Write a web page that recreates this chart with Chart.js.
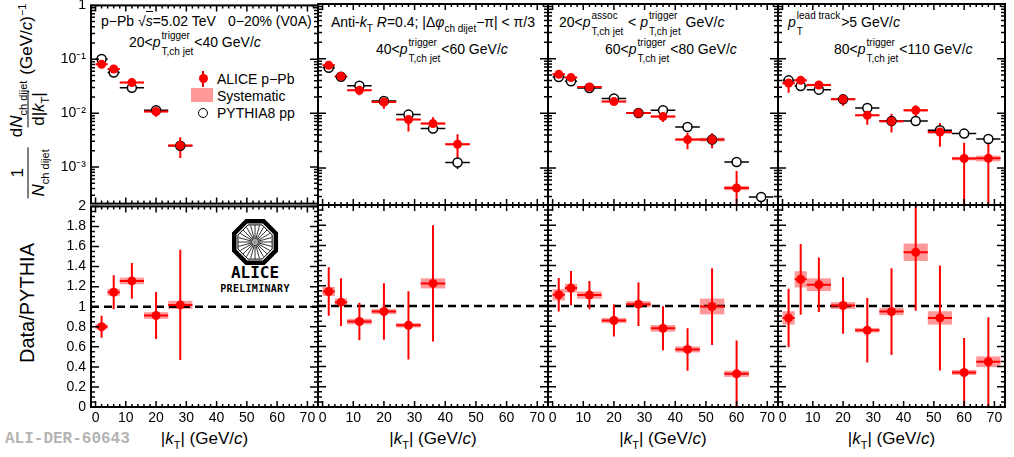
<!DOCTYPE html>
<html>
<head>
<meta charset="utf-8">
<script src="https://cdn.jsdelivr.net/npm/chart.js@4.4.1/dist/chart.umd.min.js"></script>
<style>
body { margin: 0; background: #fff; }
#page { position: relative; width: 1014px; height: 457px; overflow: hidden; font-family: "Liberation Sans", Arial, sans-serif; color: #000; }
canvas { position: absolute; }
.t { position: absolute; white-space: nowrap; font-size: 14px; line-height: 16px; }
.ss { display: inline-flex; flex-direction: column; vertical-align: middle; font-size: 10px; line-height: 11px; row-gap: 5px; margin: -6px 1px; }
.sb { font-size: 10px; position: relative; top: 5px; }
.ov { border-top: 1px solid #000; padding-top: 1px; }
.xt { position: absolute; top: 430px; text-align: center; font-size: 17px; line-height: 18px; white-space: nowrap; }
.xt .sb { font-size: 11px; top: 5px; }
.rot { position: absolute; white-space: nowrap; transform: translate(-50%, -50%) rotate(-90deg); }
.frac { display: inline-flex; flex-direction: column; align-items: center; vertical-align: middle; margin: 0 4px; }
.frac > span { line-height: 20px; padding: 0 2px; }
.den { border-top: 1.5px solid #000; }
.s2 { font-size: 11px; position: relative; top: 5px; }
</style>
</head>
<body>
<div id="page">
  <div class="t" style="left:101px;top:13px">p−Pb √<span class="ov"><i>s</i></span>=5.02 TeV</div>
  <div class="t" style="left:228px;top:13px">0−20% (V0A)</div>
  <div class="t" style="left:129px;top:34px">20&lt;<i>p</i><span class="ss"><span>trigger</span><span>T,ch jet</span></span>&lt;40 GeV/<i>c</i></div>

  <div class="t" style="left:331px;top:14px">Anti-<i>k</i><span class="sb">T</span> <i>R</i>=0.4; |Δ<i>φ</i><span class="sb">ch dijet</span>−π| &lt; π/3</div>
  <div class="t" style="left:376px;top:41px">40&lt;<i>p</i><span class="ss"><span>trigger</span><span>T,ch jet</span></span>&lt;60 GeV/<i>c</i></div>

  <div class="t" style="left:559px;top:14px">20&lt;<i>p</i><span class="ss"><span>assoc</span><span>T,ch jet</span></span> &lt; <i>p</i><span class="ss"><span>trigger</span><span>T,ch jet</span></span> GeV/<i>c</i></div>
  <div class="t" style="left:605px;top:41px">60&lt;<i>p</i><span class="ss"><span>trigger</span><span>T,ch jet</span></span>&lt;80 GeV/<i>c</i></div>

  <div class="t" style="left:788px;top:14px"><i>p</i><span class="ss"><span>lead track</span><span>T</span></span>&gt;5 GeV/<i>c</i></div>
  <div class="t" style="left:834px;top:41px">80&lt;<i>p</i><span class="ss"><span>trigger</span><span>T,ch jet</span></span>&lt;110 GeV/<i>c</i></div>

  <!-- legend -->
  <div style="position:absolute;left:202px;top:71px;width:2px;height:16px;background:#d00"></div>
  <div style="position:absolute;left:198.5px;top:74px;width:9px;height:9px;border-radius:50%;background:#f00"></div>
  <div style="position:absolute;left:191px;top:88px;width:22px;height:14px;background:rgb(255,153,153)"></div>
  <div style="position:absolute;left:198px;top:108px;width:8px;height:8px;border-radius:50%;border:1.5px solid #000"></div>
  <div class="t" style="left:217px;top:71px">ALICE p−Pb</div>
  <div class="t" style="left:217px;top:88px">Systematic</div>
  <div class="t" style="left:217px;top:105px">PYTHIA8 pp</div>

  <!-- ALICE preliminary -->
  <div style="position:absolute;left:205px;top:264px;width:100px;text-align:center;font:bold 16px 'DejaVu Sans Mono',monospace;line-height:18px">ALICE</div>
  <div style="position:absolute;left:205px;top:283px;width:100px;text-align:center;font:bold 10px 'DejaVu Sans Mono',monospace;line-height:11px;letter-spacing:0.3px">PRELIMINARY</div>

  <div class="rot" style="left:28px;top:103px;font-size:17px">
    <span class="frac"><span>1</span><span class="den"><i>N</i><span class="s2">ch dijet</span></span></span><span class="frac"><span>d<i>N</i><span class="s2">ch dijet</span></span><span class="den">d|<i>k</i><span class="s2">T</span>|</span></span>(GeV/<i>c</i>)<sup style="font-size:11px">−1</sup>
  </div>
  <div class="rot" style="left:27px;top:303px;font-size:20px">Data/PYTHIA</div>

  <div class="xt" style="left:91px;width:227px">|<i>k</i><span class="sb">T</span>| (GeV/<i>c</i>)</div>
  <div class="xt" style="left:318px;width:230px">|<i>k</i><span class="sb">T</span>| (GeV/<i>c</i>)</div>
  <div class="xt" style="left:548px;width:230px">|<i>k</i><span class="sb">T</span>| (GeV/<i>c</i>)</div>
  <div class="xt" style="left:778px;width:227px">|<i>k</i><span class="sb">T</span>| (GeV/<i>c</i>)</div>
  <div style="position:absolute;left:5px;top:430px;font:bold 16px 'Liberation Mono',monospace;line-height:18px;color:#b4b4b4">ALI-DER-60643</div>
</div>

<script>
// |kT| bins (GeV/c)
const kT = [2, 6, 12, 20, 28, 36, 44, 52, 60, 68]
const binLo = [0, 4, 8, 16, 24, 32, 40, 48, 56, 64]
const binHi = [4, 8, 16, 24, 32, 40, 48, 56, 64, 72]

// 20 < pT trigger < 40 GeV/c
const alice20 = [0.081, 0.066, 0.0369, 0.01075, 0.00252]
const aliceStat20 = [0.008, 0.0055, 0.003, 0.0022, 0.00105]
const aliceSys20 = [0.0025, 0.002, 0.001, 0.0004, 0.0001]
const pythia20 = [0.101, 0.057, 0.0295, 0.01135, 0.00249]
const pythiaStat20 = [0.001, 0.0006, 0.0003, 0.00015, 0.0001]
const ratio20 = [0.80, 1.144, 1.257, 0.912, 1.018]
const ratioStat20 = [0.11, 0.17, 0.178, 0.235, 0.55]
const ratioSys20 = [0.025, 0.035, 0.033, 0.033, 0.04]

// 40 < pT trigger < 60 GeV/c
const alice40 = [0.0755, 0.0474, 0.0263, 0.0161, 0.00767, 0.00648, 0.00272]
const aliceStat40 = [0.006, 0.004, 0.0048, 0.004, 0.003, 0.002, 0.0014]
const aliceSys40 = [0.003, 0.0017, 0.0008, 0.0004, 0.0002, 0.0003, 0.00012]
const pythia40 = [0.0684, 0.0465, 0.032, 0.0168, 0.00946, 0.00525, 0.00126]
const pythiaStat40 = [0.001, 0.0006, 0.0004, 0.0003, 0.0002, 0.0005, 0.0003]
const ratio40 = [1.144, 1.038, 0.846, 0.945, 0.809, 1.224]
const ratioStat40 = [0.24, 0.237, 0.186, 0.28, 0.338, 0.575]
const ratioSys40 = [0.045, 0.036, 0.027, 0.025, 0.022, 0.05]

// 60 < pT trigger < 80 GeV/c
const alice60 = [0.0516, 0.045, 0.0303, 0.0164, 0.01014, 0.0087, 0.0033, 0.0033, 0.00043]
const aliceStat60 = [0.003, 0.003, 0.002, 0.0015, 0.0008, 0.0018, 0.0011, 0.001, 0.00045]
const aliceSys60 = [0.0026, 0.0017, 0.001, 0.0005, 0.0003, 0.0004, 0.00018, 0.00026, 0.00004]
const pythia60 = [0.0461, 0.0385, 0.029, 0.0186, 0.0101, 0.01135, 0.00562, 0.0033, 0.00129, 0.000295]
const pythiaStat60 = [0.0008, 0.0006, 0.0004, 0.0003, 0.0002, 0.0003, 0.0002, 0.0002, 0.0001, 0.00006]
const ratio60 = [1.111, 1.177, 1.108, 0.856, 1.018, 0.779, 0.570, 0.995, 0.328]
const ratioStat60 = [0.166, 0.17, 0.14, 0.158, 0.215, 0.218, 0.21, 0.38, 0.33]
const ratioSys60 = [0.056, 0.043, 0.036, 0.025, 0.03, 0.033, 0.03, 0.078, 0.03]

// 80 < pT trigger < 110 GeV/c
const alice80 = [0.0358, 0.0401, 0.0329, 0.018, 0.00918, 0.00714, 0.01135, 0.00455, 0.00149, 0.0015]
const aliceStat80 = [0.012, 0.0075, 0.0045, 0.0043, 0.003, 0.0027, 0.0027, 0.0021, 0.0014, 0.0014]
const aliceSys80 = [0.0027, 0.0025, 0.0017, 0.0006, 0.00028, 0.00027, 0.00064, 0.00034, 0.00011, 0.00018]
const pythia80 = [0.0401, 0.0316, 0.0271, 0.018, 0.0125, 0.0072, 0.00724, 0.0049, 0.00425, 0.00339]
const pythiaStat80 = [0.0008, 0.0006, 0.0004, 0.0003, 0.0003, 0.0002, 0.0002, 0.0002, 0.0002, 0.0002]
const ratio80 = [0.882, 1.264, 1.211, 1.005, 0.76, 0.945, 1.532, 0.882, 0.342, 0.448]
const ratioStat80 = [0.29, 0.35, 0.27, 0.28, 0.32, 0.43, 0.58, 0.52, 0.34, 0.44]
const ratioSys80 = [0.066, 0.08, 0.063, 0.033, 0.023, 0.036, 0.086, 0.066, 0.025, 0.053]

const xTickLabels = ['0', '10', '20', '30', '40', '50', '60', '70']

// layout (page pixels)
const colX = [91, 318, 548, 778, 1005]
const rowY = [4, 205, 407]
const PAD = 12
const Y_LAB = 46
const X_LAB = 26
const X_MIN = -1.5, X_MAX = 73.5
const LOG_MIN = 2.1e-4, LOG_MAX = 1
const SYS_FILL = 'rgb(255,153,153)'

Chart.defaults.font.family = '"Liberation Sans", Arial, sans-serif'
Chart.defaults.font.size = 14
Chart.defaults.color = '#000'

let supDigits = {'-': '⁻', '0': '⁰', '1': '¹', '2': '²', '3': '³', '4': '⁴'}

let logLabel = function(v) {
    let l = Math.log10(v)
    let r = Math.round(l)
    if (Math.abs(l - r) > 1e-6) return ''
    if (r === 0) return '1'
    return '10' + String(r).split('').map(ch => supDigits[ch]).join('')
}

let panelDeco = {
    id: 'panelDeco',
    beforeDatasetsDraw(chart, args, opts) {
        const {ctx, chartArea: a, scales: {x, y}} = chart
        const low = v => y.type === 'logarithmic' ? Math.max(v, y.min / 10) : v
        ctx.save()
        ctx.beginPath()
        ctx.rect(a.left, a.top, a.width, a.height)
        ctx.clip()

        // systematic boxes
        chart.data.datasets.forEach(ds => {
            if (!ds.sys) return
            ctx.fillStyle = SYS_FILL
            ds.data.forEach((p, i) => {
                const x0 = x.getPixelForValue(binLo[i]), x1 = x.getPixelForValue(binHi[i])
                const y0 = y.getPixelForValue(p.y + ds.sys[i]), y1 = y.getPixelForValue(low(p.y - ds.sys[i]))
                ctx.fillRect(x0, y0, x1 - x0, y1 - y0)
            })
        })

        if (opts.refLine) {
            ctx.strokeStyle = '#000'
            ctx.lineWidth = 2.5
            ctx.setLineDash([8, 5])
            const py = y.getPixelForValue(1)
            ctx.beginPath()
            ctx.moveTo(a.left, py)
            ctx.lineTo(a.right, py)
            ctx.stroke()
            ctx.setLineDash([])
        }

        if (opts.logo) {
            const cx = x.getPixelForValue(opts.logo.x), cy = y.getPixelForValue(opts.logo.y)
            const g = ctx.createRadialGradient(cx, cy, 0, cx, cy, 8)
            g.addColorStop(0, '#888')
            g.addColorStop(1, 'rgba(160,160,160,0)')
            ctx.fillStyle = g
            ctx.beginPath()
            ctx.arc(cx, cy, 8, 0, Math.PI * 2)
            ctx.fill()
            ctx.strokeStyle = '#333'
            ctx.lineWidth = 1
            ctx.beginPath()
            for (let k = 0; k < 24; k++) {
                const ang = k * Math.PI / 12
                ctx.moveTo(cx + 3 * Math.cos(ang), cy + 3 * Math.sin(ang))
                ctx.lineTo(cx + 17 * Math.cos(ang), cy + 17 * Math.sin(ang))
            }
            ctx.stroke()
            const octagon = (r) => {
                ctx.beginPath()
                for (let k = 0; k < 8; k++) {
                    const ang = Math.PI / 8 + k * Math.PI / 4
                    const px = cx + r * Math.cos(ang), py = cy + r * Math.sin(ang)
                    if (k === 0) ctx.moveTo(px, py); else ctx.lineTo(px, py)
                }
                ctx.closePath()
                ctx.stroke()
            }
            ctx.strokeStyle = '#000'
            ctx.lineWidth = 4.5
            octagon(22.5)
            ctx.lineWidth = 1
            octagon(18.5)
        }

        // error bars, black first so red ends up on top
        const sets = chart.data.datasets.slice().sort((p, q) => q.order - p.order)
        sets.forEach(ds => {
            ctx.strokeStyle = ds.barColor
            ctx.lineWidth = ds.barWidth
            ctx.beginPath()
            ds.data.forEach((p, i) => {
                const py = y.getPixelForValue(p.y)
                const px = x.getPixelForValue(p.x)
                ctx.moveTo(x.getPixelForValue(binLo[i]), py)
                ctx.lineTo(x.getPixelForValue(binHi[i]), py)
                if (ds.stat && ds.stat[i]) {
                    ctx.moveTo(px, y.getPixelForValue(p.y + ds.stat[i]))
                    ctx.lineTo(px, y.getPixelForValue(low(p.y - ds.stat[i])))
                }
            })
            ctx.stroke()
        })
        ctx.restore()
    },
    afterDraw(chart) {
        const {ctx, chartArea: a, scales: {x, y}} = chart
        ctx.save()
        ctx.strokeStyle = '#000'
        ctx.lineWidth = 1.5
        ctx.beginPath()
        for (let v = 0; v <= X_MAX; v += 2) {
            const px = x.getPixelForValue(v)
            const len = v % 10 === 0 ? 6 : 3
            ctx.moveTo(px, a.bottom); ctx.lineTo(px, a.bottom - len)
            ctx.moveTo(px, a.top); ctx.lineTo(px, a.top + len)
        }
        const vTick = (py, len) => {
            ctx.moveTo(a.left, py); ctx.lineTo(a.left + len, py)
            ctx.moveTo(a.right, py); ctx.lineTo(a.right - len, py)
        }
        if (y.type === 'logarithmic') {
            for (let e = -4; e <= 0; e++) {
                for (let m = 1; m <= 9; m++) {
                    const v = m * Math.pow(10, e)
                    if (v < y.min || v > y.max * 1.0001) continue
                    vTick(y.getPixelForValue(v), m === 1 ? 8 : 4)
                }
            }
        } else {
            for (let k = 0; k <= 40; k++) vTick(y.getPixelForValue(k * 0.05), k % 4 === 0 ? 8 : 4)
        }
        ctx.stroke()
        ctx.lineWidth = 2
        ctx.strokeRect(a.left, a.top, a.width, a.height)
        ctx.restore()
    }
}

let aliceStyle = {
    pointStyle: 'circle', pointRadius: 4.5, pointBackgroundColor: '#ff0000', pointBorderColor: '#ff0000',
    pointBorderWidth: 0, order: 0, barColor: '#ff0000', barWidth: 2
}
let pythiaStyle = {
    pointStyle: 'circle', pointRadius: 4.5, pointBackgroundColor: '#ffffff', pointBorderColor: '#000000',
    pointBorderWidth: 1.5, order: 1, barColor: '#000000', barWidth: 1.5
}

let series = function(vals, stat, sys, style) {
    return Object.assign({
        data: vals.map((v, i) => ({x: kT[i], y: v})),
        stat: stat,
        sys: sys
    }, style)
}

let makePanel = function(col, row, datasets, deco) {
    const page = document.getElementById('page')
    const yLab = col === 0 ? Y_LAB : 0
    const xLab = row === 1 ? X_LAB : 0
    const w = colX[col + 1] - colX[col] + 2 * PAD + yLab
    const h = rowY[row + 1] - rowY[row] + 2 * PAD + xLab
    const cv = document.createElement('canvas')
    cv.width = w
    cv.height = h
    cv.style.left = (colX[col] - PAD - yLab) + 'px'
    cv.style.top = (rowY[row] - PAD) + 'px'
    cv.style.width = w + 'px'
    cv.style.height = h + 'px'
    page.appendChild(cv)

    const yScale = row === 0 ? {
        type: 'logarithmic', min: LOG_MIN, max: LOG_MAX,
        grid: {display: false, drawTicks: false}, border: {display: false},
        ticks: {display: col === 0, autoSkip: false, padding: 5, callback: logLabel},
        afterFit: s => { s.width = yLab }
    } : {
        type: 'linear', min: 0, max: 2,
        grid: {display: false, drawTicks: false}, border: {display: false},
        ticks: {display: col === 0, stepSize: 0.2, autoSkip: false, padding: 5,
            callback: v => String(Number(v.toFixed(1)))},
        afterFit: s => { s.width = yLab }
    }

    return new Chart(cv, {
        type: 'scatter',
        data: {datasets: datasets},
        options: {
            responsive: false,
            animation: false,
            layout: {padding: PAD},
            plugins: {legend: {display: false}, tooltip: {enabled: false}, panelDeco: deco || {}},
            scales: {
                x: {
                    type: 'linear', min: X_MIN, max: X_MAX,
                    grid: {display: false, drawTicks: false}, border: {display: false},
                    ticks: {
                        display: row === 1, stepSize: 10, includeBounds: false, autoSkip: false,
                        maxRotation: 0, padding: 3,
                        callback: v => (v >= 0 && v % 10 === 0) ? (xTickLabels[v / 10] || '') : ''
                    },
                    afterFit: s => { s.height = xLab }
                },
                y: yScale
            }
        },
        plugins: [panelDeco]
    })
}

window.addEventListener('DOMContentLoaded', () => {
    makePanel(0, 0, [series(alice20, aliceStat20, aliceSys20, aliceStyle), series(pythia20, pythiaStat20, null, pythiaStyle)])
    makePanel(1, 0, [series(alice40, aliceStat40, aliceSys40, aliceStyle), series(pythia40, pythiaStat40, null, pythiaStyle)])
    makePanel(2, 0, [series(alice60, aliceStat60, aliceSys60, aliceStyle), series(pythia60, pythiaStat60, null, pythiaStyle)])
    makePanel(3, 0, [series(alice80, aliceStat80, aliceSys80, aliceStyle), series(pythia80, pythiaStat80, null, pythiaStyle)])

    makePanel(0, 1, [series(ratio20, ratioStat20, ratioSys20, aliceStyle)], {refLine: true, logo: {x: 52.7, y: 1.645}})
    makePanel(1, 1, [series(ratio40, ratioStat40, ratioSys40, aliceStyle)], {refLine: true})
    makePanel(2, 1, [series(ratio60, ratioStat60, ratioSys60, aliceStyle)], {refLine: true})
    makePanel(3, 1, [series(ratio80, ratioStat80, ratioSys80, aliceStyle)], {refLine: true})
})
</script>
</body>
</html>
